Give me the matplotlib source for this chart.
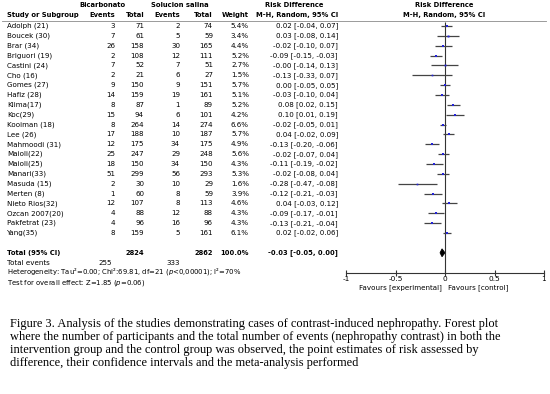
import matplotlib
matplotlib.use("Agg")
import matplotlib.pyplot as plt
from matplotlib.transforms import blended_transform_factory
import numpy as np

studies = ["Adolph (21)", "Boucek (30)", "Brar (34)", "Briguori (19)", "Castini (24)", "Cho (16)",
           "Gomes (27)", "Hafiz (28)", "Klima(17)", "Koc(29)", "Kooiman (18)", "Lee (26)",
           "Mahmoodi (31)", "Maioli(22)", "Maioli(25)", "Manari(33)", "Masuda (15)", "Merten (8)",
           "Nieto Rios(32)", "Ozcan 2007(20)", "Pakfetrat (23)", "Yang(35)"]
bic_events = [3, 7, 26, 2, 7, 2, 9, 14, 8, 15, 8, 17, 12, 25, 18, 51, 2, 1, 12, 4, 4, 8]
bic_total = [71, 61, 158, 108, 52, 21, 150, 159, 87, 94, 264, 188, 175, 247, 150, 299, 30, 60, 107, 88, 96, 159]
sal_events = [2, 5, 30, 12, 7, 6, 9, 19, 1, 6, 14, 10, 34, 29, 34, 56, 10, 8, 8, 12, 16, 5]
sal_total = [74, 59, 165, 111, 51, 27, 151, 161, 89, 101, 274, 187, 175, 248, 150, 293, 29, 59, 113, 88, 96, 161]
weights = [5.4, 3.4, 4.4, 5.2, 2.7, 1.5, 5.7, 5.1, 5.2, 4.2, 6.6, 5.7, 4.9, 5.6, 4.3, 5.3, 1.6, 3.9, 4.6, 4.3, 4.3, 6.1]
rd = [0.02, 0.03, -0.02, -0.09, -0.00, -0.13, 0.00, -0.03, 0.08, 0.10, -0.02, 0.04, -0.13, -0.02, -0.11, -0.02, -0.28, -0.12, 0.04, -0.09, -0.13, 0.02]
rd_lo = [-0.04, -0.08, -0.10, -0.15, -0.14, -0.33, -0.05, -0.10, 0.02, 0.01, -0.05, -0.02, -0.20, -0.07, -0.19, -0.08, -0.47, -0.21, -0.03, -0.17, -0.21, -0.02]
rd_hi = [0.07, 0.14, 0.07, -0.03, 0.13, 0.07, 0.05, 0.04, 0.15, 0.19, 0.01, 0.09, -0.06, 0.04, -0.02, 0.04, -0.08, -0.03, 0.12, -0.01, -0.04, 0.06]
rd_labels = ["0.02 [-0.04, 0.07]", "0.03 [-0.08, 0.14]", "-0.02 [-0.10, 0.07]", "-0.09 [-0.15, -0.03]",
             "-0.00 [-0.14, 0.13]", "-0.13 [-0.33, 0.07]", "0.00 [-0.05, 0.05]", "-0.03 [-0.10, 0.04]",
             "0.08 [0.02, 0.15]", "0.10 [0.01, 0.19]", "-0.02 [-0.05, 0.01]", "0.04 [-0.02, 0.09]",
             "-0.13 [-0.20, -0.06]", "-0.02 [-0.07, 0.04]", "-0.11 [-0.19, -0.02]", "-0.02 [-0.08, 0.04]",
             "-0.28 [-0.47, -0.08]", "-0.12 [-0.21, -0.03]", "0.04 [-0.03, 0.12]", "-0.09 [-0.17, -0.01]",
             "-0.13 [-0.21, -0.04]", "0.02 [-0.02, 0.06]"]
total_bic, total_sal = 2824, 2862
events_bic, events_sal = 255, 333
total_est, total_lo, total_hi = -0.03, -0.05, 0.00
total_label = "-0.03 [-0.05, 0.00]"
xticks = [-1, -0.5, 0, 0.5, 1]
xticklabels = ["-1", "-0.5", "0", "0.5", "1"]
caption = ["Figure 3. Analysis of the studies demonstrating cases of contrast-induced nephropathy. Forest plot",
           "where the number of participants and the total number of events (nephropathy contrast) in both the",
           "intervention group and the control group was observed, the point estimates of risk assessed by",
           "difference, their confidence intervals and the meta-analysis performed"]

W, H = 550, 394
fig = plt.figure(figsize=(W / 100, H / 100), dpi=100)
row0, rowh = 26.0, 9.86
ytop = -row0 / rowh
ybot = (H - row0) / rowh
ax = fig.add_axes([346 / W, 0, 198 / W, 1])
ax.set_xlim(-1, 1)
ax.set_ylim(ybot, ytop)
ax.patch.set_alpha(0)
for s in ["top", "left", "right"]:
    ax.spines[s].set_visible(False)
ax.spines["bottom"].set_position(("data", 25.0))
ax.spines["bottom"].set_bounds(-1, 1)
ax.spines["bottom"].set_color("#333333")
ax.spines["bottom"].set_linewidth(0.8)
ax.set_yticks([])
ax.set_xticks(xticks)
ax.set_xticklabels(xticklabels)
ax.tick_params(axis="x", direction="inout", length=5, width=0.8, pad=0, labelsize=5.3, color="#333333")

trans = blended_transform_factory(fig.transFigure, ax.transData)
fs = 5.1
hfs = 4.9
rows = np.arange(len(studies))

def T(xpx, r, s, ha="left", **kw):
    kw.setdefault("fontsize", fs)
    ax.text(xpx / W, r, s, transform=trans, ha=ha, va="center", clip_on=False, **kw)

# headers
T(102, -2.15, "Bicarbonato", ha="center", fontweight="bold", fontsize=hfs)
T(180, -2.15, "Solucion salina", ha="center", fontweight="bold", fontsize=hfs)
T(294, -2.15, "Risk Difference", ha="center", fontweight="bold", fontsize=hfs)
T(444, -2.15, "Risk Difference", ha="center", fontweight="bold", fontsize=hfs)
T(7, -1.1, "Study or Subgroup", fontweight="bold", fontsize=hfs)
T(115, -1.1, "Events", ha="right", fontweight="bold", fontsize=hfs)
T(144, -1.1, "Total", ha="right", fontweight="bold", fontsize=hfs)
T(180, -1.1, "Events", ha="right", fontweight="bold", fontsize=hfs)
T(213, -1.1, "Total", ha="right", fontweight="bold", fontsize=hfs)
T(249, -1.1, "Weight", ha="right", fontweight="bold", fontsize=hfs)
T(297, -1.1, "M-H, Random, 95% CI", ha="center", fontweight="bold", fontsize=hfs)
T(444, -1.1, "M-H, Random, 95% CI", ha="center", fontweight="bold", fontsize=hfs)
ax.plot([2 / W, 546 / W], [-0.46, -0.46], transform=trans, color="#8a8a8a", lw=0.6, clip_on=False)

for i in rows:
    T(7, i, studies[i])
    T(115, i, str(bic_events[i]), ha="right")
    T(144, i, str(bic_total[i]), ha="right")
    T(180, i, str(sal_events[i]), ha="right")
    T(213, i, str(sal_total[i]), ha="right")
    T(249, i, f"{weights[i]:.1f}%", ha="right")
    T(338, i, rd_labels[i], ha="right")

# totals
T(7, 23, "Total (95% CI)", fontweight="bold", fontsize=hfs)
T(144, 23, str(total_bic), ha="right", fontweight="bold", fontsize=hfs)
T(213, 23, str(total_sal), ha="right", fontweight="bold", fontsize=hfs)
T(249, 23, f"{sum(weights):.1f}%", ha="right", fontweight="bold", fontsize=hfs)
T(338, 23, total_label, ha="right", fontweight="bold", fontsize=hfs)
T(7, 24.0, "Total events")
T(112, 24.0, str(events_bic), ha="right")
T(180, 24.0, str(events_sal), ha="right")
T(7, 24.9, "Heterogeneity: Tau\u00b2=0.00; Chi\u00b2:69.81, df=21 ($p$<0,00001); I\u00b2=70%", fontsize=4.95)
T(7, 26.1, "Test for overall effect: Z=1.85 ($p$=0.06)", fontsize=4.95)

# forest
ax.vlines(0, -0.45, 25, color="#333333", lw=0.8)
ax.hlines(rows, rd_lo, rd_hi, color="#444444", lw=0.9)
ms = [1.0 + 0.12 * w for w in weights]
for i in rows:
    ax.plot(rd[i], i, marker="s", ms=ms[i], color="#2424d8", mew=0, ls="none")
dx = [total_lo, total_est, total_hi, total_est]
dy = [23, 22.6, 23, 23.4]
ax.fill(dx, dy, color="black", lw=0.6, ec="black")

ax.text(-0.03, 26.5, "Favours [experimental]", ha="right", va="center", fontsize=5.1)
ax.text(0.03, 26.5, "Favours [control]", ha="left", va="center", fontsize=5.1)

for k, line in enumerate(caption):
    fig.text(10 / W, 1 - (324 + 13 * k) / H, line, ha="left", va="center",
             fontsize=8.9, family="Liberation Serif")

fig.savefig("out.png", dpi=100)
